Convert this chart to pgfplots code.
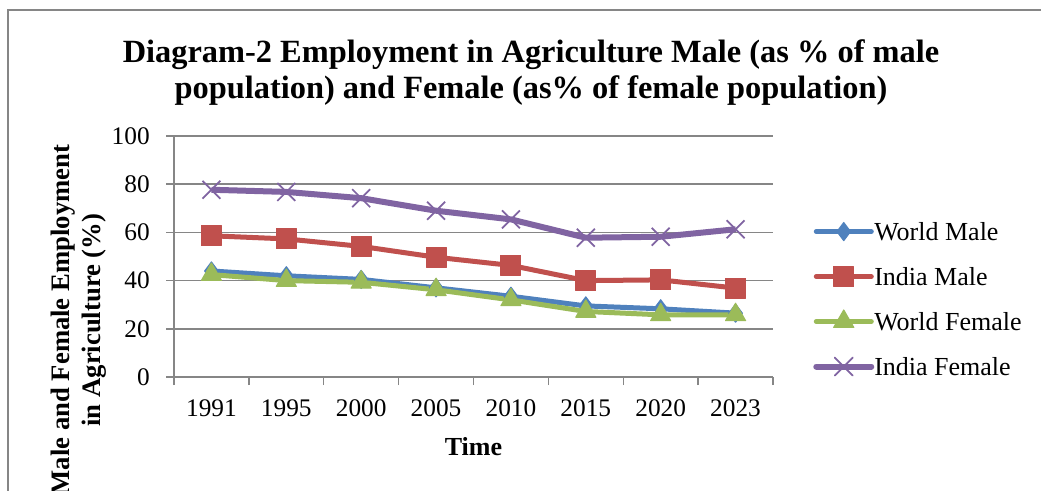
\documentclass[border=0pt]{standalone}
\usepackage{pgfplots}
\pgfplotsset{compat=1.18}
\usepackage{fontspec}
\setmainfont{Liberation Serif}
\definecolor{cWM}{HTML}{4F81BD}
\definecolor{cIM}{HTML}{C0504D}
\definecolor{cWF}{HTML}{9BBB59}
\definecolor{cIF}{HTML}{8064A2}
\definecolor{gridc}{HTML}{868686}
\begin{document}
\begin{tikzpicture}
\useasboundingbox (0,0) rectangle (780.75pt,-367.5pt);
\clip (0,0) rectangle (780.75pt,-367.5pt);
\fill[white] (0,0) rectangle (780.75pt,-367.5pt);
\draw[color=gridc, line width=1.4pt] (6.2pt,-400pt) -- (6.2pt,-7.3pt) -- (800pt,-7.3pt);
\begin{axis}[
  at={(130.5pt,-282.75pt)}, anchor=south west,
  scale only axis, width=449.25pt, height=180.75pt,
  xmin=-0.5, xmax=7.5, ymin=0, ymax=100,
  xtick={-0.5,0.5,...,7.5},
  x tick label as interval,
  xticklabels={1991,1995,2000,2005,2010,2015,2020,2023},
  ytick={0,20,...,100},
  tick align=outside,
  major tick length=6pt,
  axis x line*=bottom, axis y line*=left,
  axis line style={gridc, line width=1.1pt, -},
  ymajorgrids, grid style={gridc, line width=1.1pt},
  tick style={gridc, line width=1.1pt},
  /pgf/number format/assume math mode=true,
  ticklabel style={font=\fontsize{19}{20}\selectfont},
  yticklabel style={inner sep=0pt, xshift=-12pt},
  xticklabel style={inner sep=0pt, yshift=-11pt},
  every axis plot/.append style={line width=3.75pt, line join=round},
  legend style={at={(1.0668,0.6627)}, anchor=north west, draw=none, fill=none,
    inner sep=0pt, font=\fontsize{19.5}{20}\selectfont,
    nodes={inner sep=0pt, text height=17pt, text depth=4pt},
    row sep=12.75pt,
    /tikz/every even column/.append style={column sep=3.75pt}},
  legend cell align=left,
  legend image code/.code={\draw[mark repeat=2,mark phase=2,line cap=round] plot coordinates {(0pt,0pt) (20.6pt,0pt) (41.25pt,0pt)};},
]
\addplot[color=cWM, mark=diamond*, mark size=6.8pt, mark options={solid, line width=0.8pt, fill=cWM}]
 coordinates {(0,44) (1,42) (2,40.5) (3,37) (4,33.5) (5,29.5) (6,28.3) (7,26.5)};
\addlegendentry{World Male}
\addplot[color=cIM, mark=square*, mark size=7.5pt, mark options={solid, line width=0.8pt, fill=cIM}]
 coordinates {(0,58.6) (1,57.3) (2,54.2) (3,49.7) (4,46.3) (5,40) (6,40.3) (7,36.9)};
\addlegendentry{India Male}
\addplot[color=cWF, mark=triangle*, mark size=8.7pt, mark options={solid, line width=0.8pt, fill=cWF}]
 coordinates {(0,42.5) (1,40) (2,39.3) (3,36.2) (4,32) (5,27.2) (6,25.8) (7,25.8)};
\addlegendentry{World Female}
\addplot[color=cIF, line width=4.5pt, mark=x, mark size=9.5pt, mark options={solid, line width=1.3pt}]
 coordinates {(0,77.7) (1,76.8) (2,74.2) (3,69) (4,65.4) (5,57.8) (6,58.2) (7,61.3)};
\addlegendentry{India Female}
\end{axis}
\begin{scope}[x=0.75pt,y=-0.75pt]
\node[anchor=base, inner sep=0pt, font=\bfseries\fontsize{24.3}{28}\selectfont] at (531,62) {Diagram-2 Employment in Agriculture Male (as \% of male};
\node[anchor=base, inner sep=0pt, font=\bfseries\fontsize{24.3}{28}\selectfont] at (531,98) {population) and Female (as\% of female population)};
\node[anchor=base, inner sep=0pt, font=\bfseries\fontsize{19.5}{20}\selectfont] at (473.5,455) {Time};
\node[anchor=base, rotate=90, inner sep=0pt, font=\bfseries\fontsize{20}{20}\selectfont] at (69,320) {Male and Female Employment};
\node[anchor=base, rotate=90, inner sep=0pt, font=\bfseries\fontsize{20}{20}\selectfont] at (100,320) {in Agriculture (\%)};
\end{scope}
\end{tikzpicture}
\end{document}
